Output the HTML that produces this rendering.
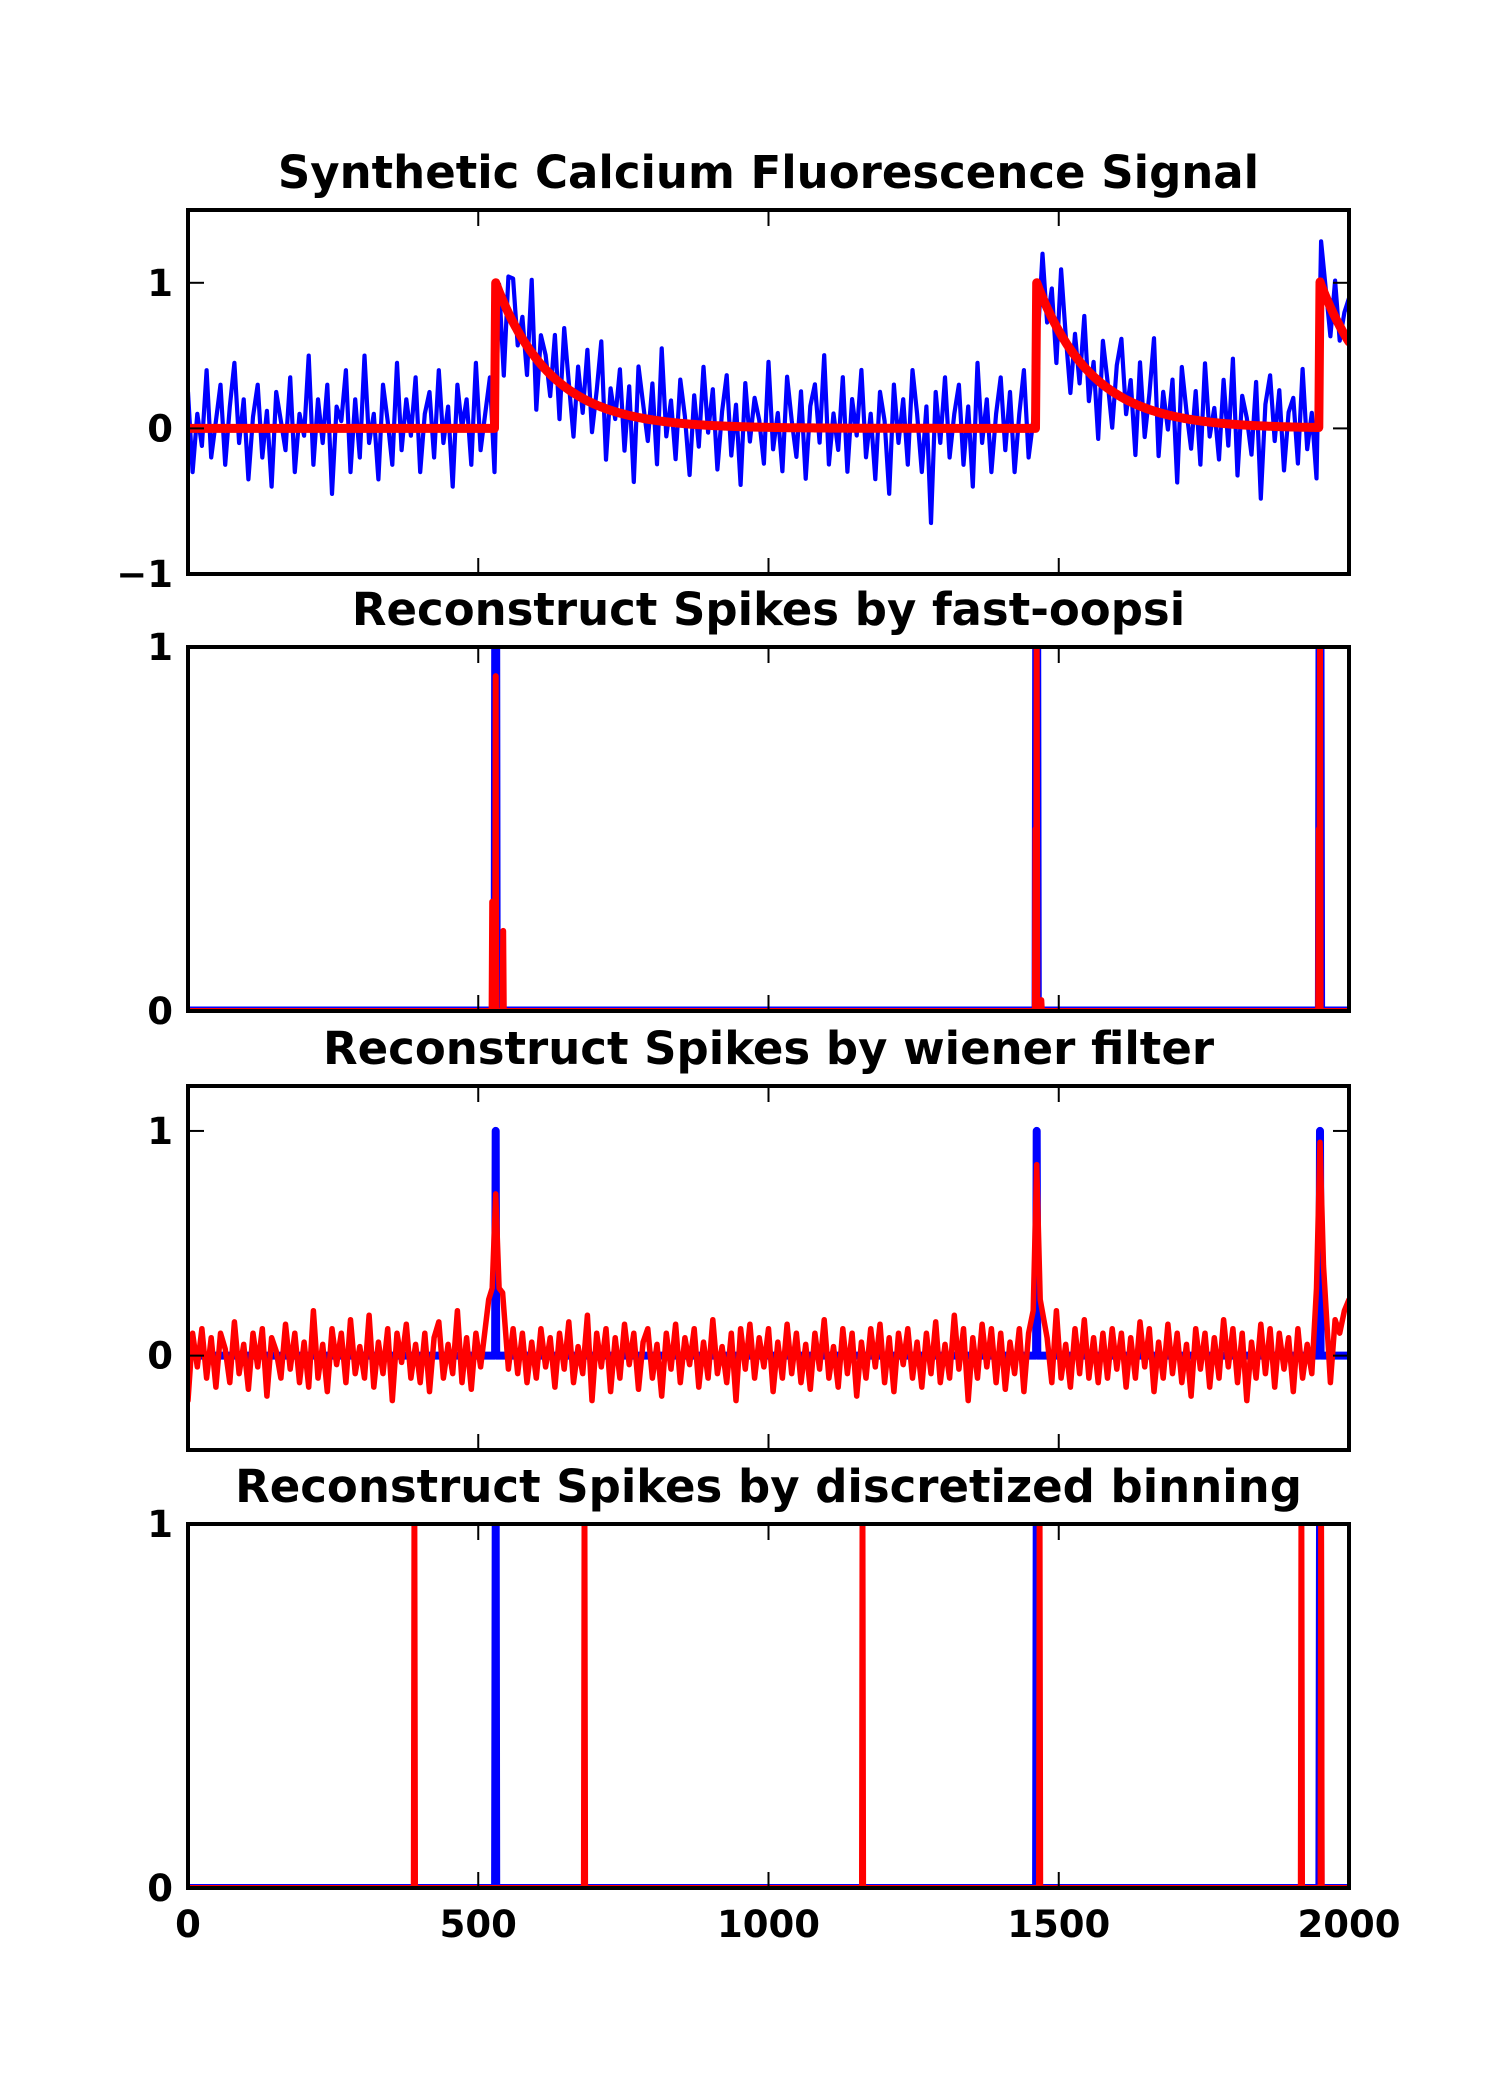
<!DOCTYPE html>
<html><head><meta charset="utf-8">
<style>
html,body{margin:0;padding:0;background:#fff;}
svg{display:block;font-family:"DejaVu Sans","Liberation Sans",sans-serif;font-weight:bold;}
</style></head>
<body>
<svg id="fig" width="1500" height="2100" viewBox="0 0 1500 2100" xmlns="http://www.w3.org/2000/svg"></svg>
<script>
// ---- data ----
const xTicks = [0, 500, 1000, 1500, 2000];
const xTickLabels = ["0", "500", "1000", "1500", "2000"];
const spikeTimes = [530, 1462, 1950];
const decayTau = 95;
const noiseStep = 8;
const noise1 = [
0.25,-0.3,0.1,-0.12,0.4,-0.2,0.05,0.3,-0.25,0.15,0.45,-0.1,0.2,-0.35,0.08,0.3,-0.2,0.12,-0.4,0.25,0.05,-0.15,0.35,-0.3,0.1,
-0.05,0.5,-0.25,0.2,-0.1,0.3,-0.45,0.15,0.05,0.4,-0.3,0.2,-0.2,0.5,-0.1,0.1,-0.35,0.3,0.05,-0.25,0.45,-0.15,0.2,-0.05,0.35,
-0.3,0.1,0.25,-0.2,0.4,-0.1,0.15,-0.4,0.3,0.0,0.2,-0.25,0.45,-0.15,0.1,0.35,-0.3,0.05,-0.5,0.25,0.3,-0.1,0.15,-0.2,0.5,
-0.35,0.2,0.1,-0.15,0.3,-0.25,0.4,0.05,-0.3,0.2,-0.1,0.35,-0.2,0.1,0.45,-0.35,0.15,-0.05,0.3,-0.25,0.2,-0.45,0.35,0.1,-0.15,
0.25,-0.3,0.5,-0.1,0.15,-0.25,0.3,0.05,-0.35,0.2,-0.15,0.4,-0.05,0.25,-0.3,0.1,0.35,-0.2,0.15,-0.4,0.3,-0.1,0.2,0.05,-0.25,
0.45,-0.15,0.1,-0.3,0.35,0.05,-0.2,0.25,-0.35,0.15,0.3,-0.1,0.5,-0.25,0.1,-0.15,0.35,-0.3,0.2,-0.05,0.4,-0.2,0.1,-0.35,0.25,
0.05,-0.45,0.3,-0.1,0.2,-0.25,0.4,0.1,-0.3,0.15,-0.65,0.25,-0.1,0.35,-0.2,0.1,0.3,-0.25,0.15,-0.4,0.45,-0.1,0.2,-0.3,0.1,
0.35,-0.15,0.25,-0.3,0.1,0.4,-0.2,0.05,-0.35,0.3,-0.1,0.2,-0.25,0.45,0.05,-0.3,0.15,-0.15,0.35,-0.2,0.1,-0.4,0.3,0.05,-0.25,
0.2,0.4,-0.1,0.15,-0.35,0.3,-0.2,0.1,0.5,-0.3,0.15,-0.1,0.25,-0.45,0.35,0.05,-0.2,0.2,-0.3,0.4,-0.1,0.1,-0.25,0.3,-0.15,
0.45,-0.35,0.2,0.05,-0.2,0.3,-0.5,0.15,0.35,-0.1,0.25,-0.3,0.1,0.2,-0.25,0.4,-0.15,0.1,-0.35,0.3,0.05,-0.2,0.25,-0.1,0.15,0.3
];
const noiseW = [
-0.2,0.1,-0.05,0.12,-0.1,0.08,-0.14,0.1,0.03,-0.12,0.15,-0.08,0.05,-0.15,0.1,-0.05,0.12,-0.18,0.08,0.02,-0.1,0.14,-0.06,0.1,-0.12,
0.06,-0.14,0.2,-0.1,0.05,-0.16,0.12,-0.04,0.1,-0.12,0.16,-0.08,0.04,-0.1,0.18,-0.14,0.06,-0.08,0.12,-0.2,0.1,-0.03,0.14,-0.1,0.05,
-0.12,0.1,-0.16,0.08,0.15,-0.1,0.05,-0.08,0.2,-0.12,0.08,-0.15,0.1,-0.05,0.14,-0.1,0.08,-0.12,0.1,-0.06,0.12,-0.08,0.1,-0.12,0.06,
-0.1,0.12,-0.05,0.08,-0.14,0.1,-0.06,0.15,-0.12,0.04,-0.08,0.18,-0.2,0.1,-0.05,0.12,-0.16,0.08,-0.1,0.14,-0.04,0.1,-0.15,0.06,0.12,
-0.1,0.05,-0.18,0.1,-0.06,0.14,-0.12,0.08,-0.04,0.12,-0.14,0.06,-0.1,0.16,-0.08,0.04,-0.12,0.1,-0.2,0.12,-0.06,0.14,-0.1,0.08,-0.05,
0.12,-0.16,0.06,-0.1,0.14,-0.08,0.1,-0.12,0.05,-0.15,0.1,-0.06,0.16,-0.1,0.04,-0.14,0.12,-0.08,0.1,-0.18,0.06,-0.1,0.12,-0.05,0.14,
-0.12,0.08,-0.16,0.1,-0.04,0.12,-0.1,0.06,-0.14,0.1,-0.08,0.15,-0.12,0.05,-0.1,0.18,-0.06,0.12,-0.2,0.08,-0.1,0.14,-0.05,0.12,-0.12,
0.1,-0.15,0.06,-0.08,0.12,-0.16,0.1,-0.04,0.14,-0.1,0.08,-0.12,0.2,-0.1,0.05,-0.14,0.12,-0.08,0.16,-0.1,0.08,-0.12,0.1,-0.1,0.12,
-0.06,0.1,-0.14,0.08,-0.1,0.15,-0.05,0.12,-0.16,0.06,-0.1,0.14,-0.08,0.1,-0.12,0.05,-0.18,0.12,-0.06,0.1,-0.14,0.08,-0.1,0.16,-0.05,
0.12,-0.12,0.1,-0.2,0.06,-0.1,0.14,-0.08,0.12,-0.14,0.1,-0.06,0.08,-0.16,0.12,-0.1,0.05,-0.08,0.1,-0.06,0.1,-0.12,0.16,0.1,0.2,0.25
];
const wienerPeakTimes = [518, 524, 530, 536, 542, 1456, 1462, 1468, 1944, 1950, 1956];
const wienerPeakVals  = [0.25, 0.3, 0.72, 0.3, 0.28, 0.2, 0.85, 0.25, 0.3, 0.95, 0.4];
const oopsiTimes = [524, 530, 543, 1460, 1462, 1470, 1948, 1950];
const oopsiVals  = [0.3, 0.92, 0.22, 0.5, 1.0, 0.03, 0.5, 1.0];
const binTimes = [390, 683, 1162, 1467, 1918, 1952];
const binVals  = [1, 1, 1, 1, 1, 1];
const titles = ["Synthetic Calcium Fluorescence Signal","Reconstruct Spikes by fast-oopsi","Reconstruct Spikes by wiener filter","Reconstruct Spikes by discretized binning"];

// ---- layout ----
const NS="http://www.w3.org/2000/svg";
const svg=document.getElementById('fig');
const L=188,R=1349,H=364,tops=[210,647,1086,1524];
const yRanges=[[-1,1.5],[0,1],[-0.42,1.2],[0,1]];
const yTicksAll=[[1,0,-1],[1,0],[1,0],[1,0]];
const yTickLbl=[["1","0","\u22121"],["1","0"],["1","0"],["1","0"]];
const sx=v=>L+(v-0)/(2000-0)*(R-L);
function mk(tag,attrs,parent){const e=document.createElementNS(NS,tag);for(const k in attrs)e.setAttribute(k,attrs[k]);(parent||svg).appendChild(e);return e;}
function model(t){let v=0;for(const s of spikeTimes){if(t>=s)v+=Math.exp(-(t-s)/decayTau);}return v;}

tops.forEach((top,i)=>{
  const [y0,y1]=yRanges[i];
  const sy=v=>top+H-(v-y0)/(y1-y0)*H;
  const g=mk('g',{});
  
  
  const clipId='c'+i;
  const cp=mk('clipPath',{id:clipId},g);mk('rect',{x:L,y:top,width:R-L,height:H},cp);
  const plot=mk('g',{'clip-path':'url(#'+clipId+')'},g);
  const seriesPath=(pts,color,w,name)=>{const p=mk('path',{d:'M'+pts.map(q=>q[0].toFixed(1)+','+q[1].toFixed(1)).join('L'),fill:'none',stroke:color,'stroke-width':w,'stroke-linejoin':'round','stroke-linecap':'round'},plot);
    
    };
  const spikeTrain=(times,vals)=>{const pts=[[0,0]];times.forEach((t,k)=>{pts.push([t-1,0]);pts.push([t,vals[k]]);pts.push([t+1,0]);});pts.push([2000,0]);return pts;};
  if(i===0){
    const blue=noise1.map((n,k)=>{const t=k*noiseStep;return [sx(t),sy(model(t)+n)];});
    seriesPath(blue,'#0000ff',4.2,'fluorescence-trace');
    const red=[];for(let t=0;t<=2000;t+=2)red.push([sx(t),sy(model(t))]);
    seriesPath(red,'#ff0000',9,'calcium-model');
  } else if(i===1){
    seriesPath(spikeTrain(spikeTimes,spikeTimes.map(()=>1)).map(q=>[sx(q[0]),sy(q[1])]),'#0000ff',9,'true-spikes');
    seriesPath(spikeTrain(oopsiTimes,oopsiVals).map(q=>[sx(q[0]),sy(q[1])]),'#ff0000',6,'oopsi-spikes');
  } else if(i===2){
    seriesPath(spikeTrain(spikeTimes,spikeTimes.map(()=>1)).map(q=>[sx(q[0]),sy(q[1])]),'#0000ff',8,'true-spikes');
    let pts=[];
    noiseW.forEach((n,k)=>{const t=k*noiseStep;if(!wienerPeakTimes.some(p=>Math.abs(p-t)<7))pts.push([t,n]);});
    wienerPeakTimes.forEach((t,k)=>pts.push([t,wienerPeakVals[k]]));
    pts.sort((a,b)=>a[0]-b[0]);
    seriesPath(pts.map(q=>[sx(q[0]),sy(q[1])]),'#ff0000',5.5,'wiener-estimate');
  } else {
    seriesPath(spikeTrain(spikeTimes,spikeTimes.map(()=>1)).map(q=>[sx(q[0]),sy(q[1])]),'#0000ff',8,'true-spikes');
    seriesPath(spikeTrain(binTimes,binVals).map(q=>[sx(q[0]),sy(q[1])]),'#ff0000',6,'binned-spikes');
  }
  const fr=mk('rect',{x:L,y:top,width:R-L,height:H,fill:'none',stroke:'#000','stroke-width':4},g);
  
  
  yTicksAll[i].forEach((v,k)=>{const y=sy(v);
    mk('line',{x1:L,x2:L+16,y1:y,y2:y,stroke:'#000','stroke-width':2},g);
    mk('line',{x1:R,x2:R-16,y1:y,y2:y,stroke:'#000','stroke-width':2},g);
    const t=mk('text',{x:L-15,y:y+13,'text-anchor':'end','font-size':37},g);t.textContent=yTickLbl[i][k];
    
    });
  xTicks.forEach((v,k)=>{const x=sx(v);
    mk('line',{x1:x,x2:x,y1:top+H,y2:top+H-16,stroke:'#000','stroke-width':2},g);
    mk('line',{x1:x,x2:x,y1:top,y2:top+16,stroke:'#000','stroke-width':2},g);
    if(i===3){const t=mk('text',{x:x,y:top+H+49,'text-anchor':'middle','font-size':37},g);t.textContent=xTickLabels[k];
      
      }
  });
  const tt=mk('text',{x:(L+R)/2,y:top-22,'text-anchor':'middle','font-size':45},g);tt.textContent=titles[i];
  
  
});
</script>
</body></html>
